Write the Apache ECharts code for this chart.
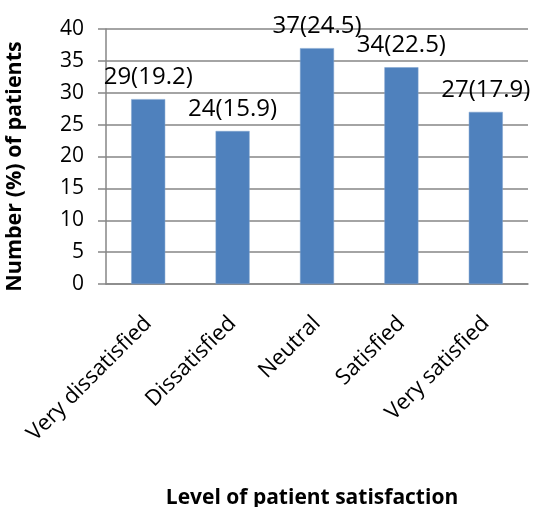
<!DOCTYPE html>
<html>
<head>
<meta charset="utf-8">
<script src="https://cdn.jsdelivr.net/npm/echarts@6/dist/echarts.min.js"></script>
<style>
  html, body { margin: 0; padding: 0; background: #fff; }
  #chart { width: 536px; height: 507px; }
</style>
</head>
<body>
<div id="chart"></div>
<script>
// Patient satisfaction survey: counts with percentages in brackets
const categories = ['Very dissatisfied', 'Dissatisfied', 'Neutral', 'Satisfied', 'Very satisfied'];
const counts = [29, 24, 37, 34, 27];
const percents = ['19.2', '15.9', '24.5', '22.5', '17.9'];
const yTicks = [0, 5, 10, 15, 20, 25, 30, 35, 40];

const FONT = '"Open Sans", "Noto Sans", sans-serif';
const chart = echarts.init(document.getElementById('chart'));

chart.setOption({
  animation: false,
  textStyle: { fontFamily: FONT, color: '#000' },
  grid: { left: 106, right: 8, top: 29, bottom: 223, containLabel: false, outerBoundsMode: 'none' },
  xAxis: {
    type: 'category',
    data: categories,
    name: 'Level of patient satisfaction',
    nameLocation: 'middle',
    nameGap: 204,
    nameTextStyle: { fontFamily: FONT, fontWeight: 'bold', fontSize: 21, color: '#000', padding: [0, 10, 0, 0] },
    axisLine: { lineStyle: { color: '#868686', width: 1.5 } },
    axisTick: { show: false },
    axisLabel: { rotate: 45, margin: 36, fontSize: 22, color: '#000', fontFamily: FONT, interval: 0 }
  },
  yAxis: {
    type: 'value',
    min: yTicks[0],
    max: yTicks[yTicks.length - 1],
    interval: 5,
    name: 'Number (%) of patients',
    nameLocation: 'middle',
    nameGap: 80,
    nameTextStyle: { fontFamily: FONT, fontWeight: 'bold', fontSize: 21.5, color: '#000', padding: [0, 0, 0, -20] },
    axisLine: { show: true, lineStyle: { color: '#868686', width: 1.5 } },
    axisTick: { show: true, length: 8, lineStyle: { color: '#868686', width: 1.5 } },
    axisLabel: { margin: 22, fontSize: 21, color: '#000', fontFamily: FONT },
    splitLine: { show: true, lineStyle: { color: '#868686', width: 1.5 } }
  },
  series: [{
    type: 'bar',
    data: counts,
    barWidth: 34,
    itemStyle: { color: '#4F81BD', borderColor: '#7FA3CF', borderWidth: 0.5 },
    label: {
      show: true,
      position: 'top',
      distance: 10,
      fontSize: 24,
      fontFamily: FONT,
      color: '#000',
      formatter: p => p.value + '(' + percents[p.dataIndex] + ')'
    }
  }]
});
</script>
</body>
</html>
